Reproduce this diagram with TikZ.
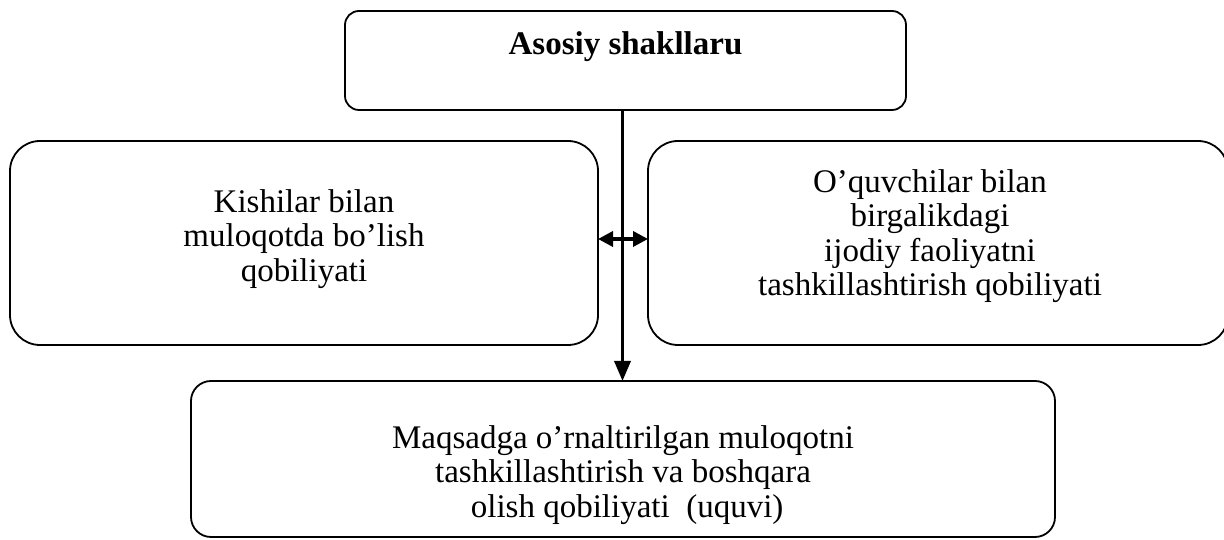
\documentclass[tikz,border=0pt]{standalone}
\usepackage{fontspec}
\setmainfont{Liberation Serif}
\usetikzlibrary{arrows.meta}
\begin{document}
\begin{tikzpicture}[x=1pt,y=1pt,
  box/.style={draw, line width=1.8pt, inner sep=0pt, outer sep=0pt, align=center,
    font=\fontsize{33}{34.5}\selectfont},
  conn/.style={line width=3.5pt}]
\useasboundingbox (0,0) rectangle (1224,540);
\node[box, rounded corners=14pt, minimum width=561pt, minimum height=99pt] (top) at (625.5,479.5)
  {\raisebox{14pt}[\height][\depth]{\textbf{Asosiy shakllaru}}};
\node[box, rounded corners=30pt, minimum width=588pt, minimum height=204pt] (left) at (304,297)
  {\raisebox{3pt}[\height][\depth]{\begin{tabular}{c}Kishilar bilan\\ muloqotda bo’lish\\ qobiliyati\end{tabular}}};
\node[box, rounded corners=30pt, minimum width=580pt, minimum height=204pt] (right) at (938,297)
  {\hspace*{-16pt}\raisebox{6pt}[\height][\depth]{\begin{tabular}{c}O’quvchilar bilan\\ birgalikdagi\\ ijodiy faoliyatni\\ tashkillashtirish qobiliyati\end{tabular}}};
\node[box, rounded corners=20pt, minimum width=864pt, minimum height=156pt] (bottom) at (623,81)
  {\raisebox{-17pt}[\height][\depth]{\begin{tabular}{c}Maqsadga o’rnaltirilgan muloqotni\\ tashkillashtirish va boshqara\\ \ olish qobiliyati \ (uquvi)\end{tabular}}};
\coordinate (ax) at (622.5,0);
\coordinate (ay) at (0,301);
\draw[conn, -{Triangle[length=20pt,width=16pt]}] (top.south -| ax) -- (bottom.north -| ax);
\draw[line width=3.5pt, {Triangle[length=15pt,width=15pt]}-{Triangle[length=15pt,width=15pt]}] (left.east |- ay) -- (right.west |- ay);
\end{tikzpicture}
\end{document}
